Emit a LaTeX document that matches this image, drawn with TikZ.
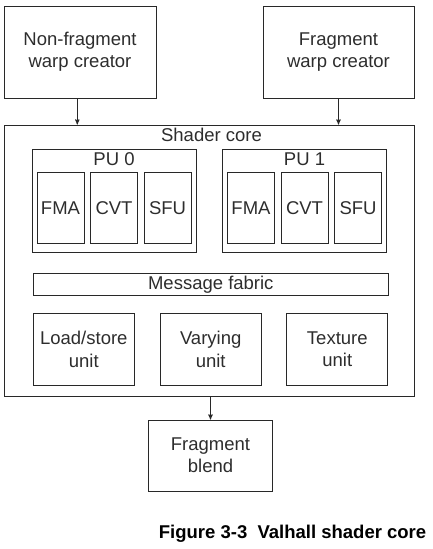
\documentclass[tikz,border=0pt]{standalone}
\usepackage{fontspec}
\setmainfont{Liberation Sans}
\usetikzlibrary{%
  arrows,%
  positioning% wg. " of "
}
\definecolor{linegray}{RGB}{40,40,40}
\definecolor{textgray}{RGB}{45,45,45}

\begin{document}
\begin{tikzpicture}
  [
  x=1pt, y=-1pt,
  font=\fontsize{18.5}{22.3}\selectfont,
  line width=0.9pt,
  color=linegray, text=textgray, >=stealth',
  block/.style={rectangle, inner sep = 0pt, align=center, draw=linegray},
  fubox/.style={block, minimum width = 47pt, minimum height = 71pt},
  unitbox/.style={block, minimum width = 101pt, minimum height = 72pt},
  ]

  \useasboundingbox (0,0) rectangle (432,549);

  \node[block, minimum width=152pt, minimum height=92pt] (nonfrag) at (80,52) {Non-fragment\\warp creator};
  \node[block, minimum width=151pt, minimum height=92pt] (frag) at (338.5,52) {Fragment\\warp creator};

  \node[block, minimum width=410pt, minimum height=271pt] (core) at (209,260.5) {};
  \node[anchor=base] (coretitle) at (211.5,141.7) {Shader core};

  \foreach \p/\x in {0/114,1/304.5} {
    \node[block, minimum width=164pt, minimum height=103pt] (pu\p) at (\x,200.5) {};
    \node[anchor=base] (putitle\p) at (\x,165.7) {PU \p};
    \foreach \u [count=\i from -1] in {FMA,CVT,SFU} {
      \node[fubox] (\u\p) at (\x+53.5*\i,207.8) {\u};
    }
  }

  \node[block, minimum width=355pt, minimum height=22.4pt] (fabric) at (210.8,284.5) {Message fabric};

  \node[unitbox] (ls) at (83.8,349.3) {Load/store\\unit};
  \node[unitbox] (vary) at (210.7,349.3) {Varying\\unit};
  \node[unitbox] (tex) at (337.3,349.3) {Texture\\unit};

  \node[block, minimum width=124.4pt, minimum height=71pt] (blend) at (210.5,455.5) {Fragment\\blend};

  \node[anchor=base east, inner sep=0pt, text=black, font=\fontsize{18.5}{22.3}\selectfont\bfseries] (caption) at (426.7,538) {Figure 3-3\ \ Valhall shader core};

  \coordinate (nfout) at ([xshift=-2.7pt]nonfrag.south);
  \draw[->] (nfout) -- (nfout |- core.north);
  \draw[->] (frag.south) -- (frag.south |- core.north);
  \draw[->] (blend.north |- core.south) -- (blend.north);

\end{tikzpicture}
\end{document}
